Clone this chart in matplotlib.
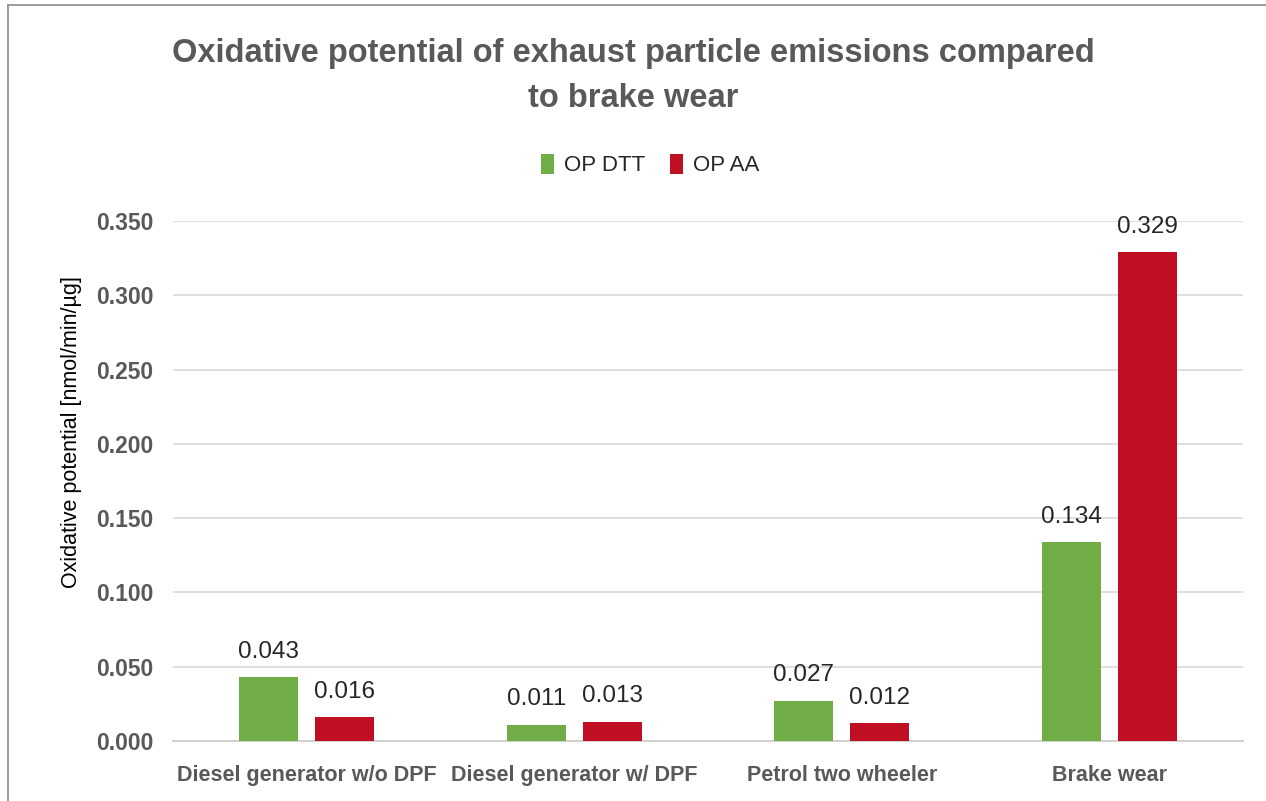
import numpy as np
import matplotlib
matplotlib.use("Agg")
from matplotlib import pyplot as plt
from matplotlib.lines import Line2D

categories = ["Diesel generator w/o DPF", "Diesel generator w/ DPF",
              "Petrol two wheeler", "Brake wear"]
op_dtt = [0.043, 0.011, 0.027, 0.134]
op_aa = [0.016, 0.013, 0.012, 0.329]
yticks = [0.0, 0.05, 0.10, 0.15, 0.20, 0.25, 0.30, 0.35]

green = "#70ad47"
red = "#c00f23"
grey_txt = "#595959"

plt.rcParams['font.family'] = ['Liberation Sans', 'DejaVu Sans']

W, H = 1266, 801
fig = plt.figure(figsize=(W / 100, H / 100), dpi=100)
ax = fig.add_axes([173 / W, 1 - 741 / H, (1243 - 173) / W, (741 - 221) / H])

x = np.arange(len(categories))
bw = 0.22
off = 0.142
b1 = ax.bar(x - off, op_dtt, bw, color=green, label="OP DTT", zorder=3)
b2 = ax.bar(x + off, op_aa, bw, color=red, label="OP AA", zorder=3)

for bars, vals in ((b1, op_dtt), (b2, op_aa)):
    for rect, v in zip(bars, vals):
        ax.text(rect.get_x() + rect.get_width() / 2, v + 0.0097, "%.3f" % v,
                ha="center", va="bottom", fontsize=17.5, color="#262626", zorder=4)

ax.set_xlim(-0.5, len(categories) - 0.5)
ax.set_ylim(0, 0.35)
ax.set_yticks(yticks)
ax.set_yticklabels(["%.3f" % t for t in yticks], fontsize=16.5, fontweight="bold",
                   color=grey_txt)
ax.set_xticks(x)
ax.set_xticklabels(categories, fontsize=15.5, fontweight="bold", color=grey_txt)
ax.tick_params(axis="both", length=0)
ax.tick_params(axis="y", pad=14)
ax.tick_params(axis="x", pad=17)
ax.grid(axis="y", color="#d9d9d9", linewidth=1.2, zorder=0)
ax.set_axisbelow(True)
for s in ("top", "right", "left"):
    ax.spines[s].set_visible(False)
ax.spines["bottom"].set_color("#d0d0d0")
ax.spines["bottom"].set_linewidth(1.4)

ax.set_ylabel("Oxidative potential [nmol/min/\u00b5g]", fontsize=15.5, color="black")
ax.yaxis.set_label_coords(-0.085, (741 - 432) / 520)

fig.text(0.5, 1 - 76 / H, "Oxidative potential of exhaust particle emissions compared\nto brake wear",
         ha="center", va="center", fontsize=23.5, fontweight="bold", color=grey_txt,
         linespacing=1.6)

leg = fig.legend(handles=[b1, b2], labels=["OP DTT", "OP AA"], loc="center",
                 bbox_to_anchor=(650 / W, 1 - 165 / H), ncol=2, frameon=False,
                 fontsize=16, handlelength=0.6, handleheight=1.0, handletextpad=0.45,
                 columnspacing=1.1)
for t in leg.get_texts():
    t.set_color("#262626")

# chart frame edges
fig.add_artist(Line2D([8 / W, 1], [1 - 5 / H, 1 - 5 / H], color="#8c8c8c", linewidth=1.2,
                      transform=fig.transFigure))
fig.add_artist(Line2D([8 / W, 8 / W], [0, 1 - 5 / H], color="#8c8c8c", linewidth=1.2,
                      transform=fig.transFigure))

fig.savefig("out.png", dpi=100)
